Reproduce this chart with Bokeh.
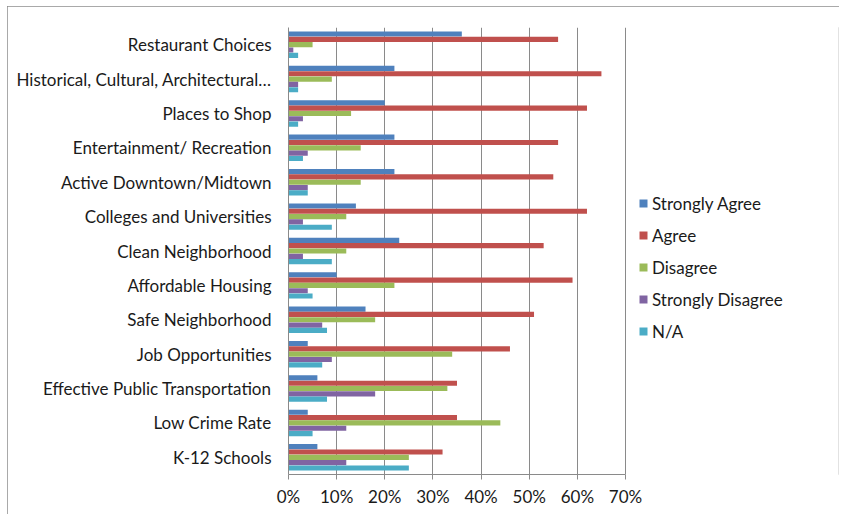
from bokeh.plotting import figure
from bokeh.models import (FactorRange, Range1d, NumeralTickFormatter, Legend, LegendItem,
                          ColumnDataSource, InlineStyleSheet, FixedTicker)
from bokeh.transform import dodge
from bokeh.embed import file_html
from bokeh.resources import INLINE

categories = [
    "Restaurant Choices",
    "Historical, Cultural, Architectural…",
    "Places to Shop",
    "Entertainment/ Recreation",
    "Active Downtown/Midtown",
    "Colleges and Universities",
    "Clean Neighborhood",
    "Affordable Housing",
    "Safe Neighborhood",
    "Job Opportunities",
    "Effective Public Transportation",
    "Low Crime Rate",
    "K-12 Schools",
]
series_names = ["Strongly Agree", "Agree", "Disagree", "Strongly Disagree", "N/A"]
strongly_agree = [36, 22, 20, 22, 22, 14, 23, 10, 16, 4, 6, 4, 6]
agree = [56, 65, 62, 56, 55, 62, 53, 59, 51, 46, 35, 35, 32]
disagree = [5, 9, 13, 15, 15, 12, 12, 22, 18, 34, 33, 44, 25]
strongly_disagree = [1, 2, 3, 4, 4, 3, 3, 4, 7, 9, 18, 12, 12]
not_applicable = [2, 2, 2, 3, 4, 9, 9, 5, 8, 7, 8, 5, 25]
x_ticks = [0, 0.1, 0.2, 0.3, 0.4, 0.5, 0.6, 0.7]
x_max = 0.7

colors = ["#4F81BD", "#C0504D", "#9BBB59", "#8064A2", "#4BACC6"]
values = [strongly_agree, agree, disagree, strongly_disagree, not_applicable]
keys = ["sa", "a", "d", "sd", "na"]

data = {"cat": categories}
for k, v in zip(keys, values):
    data[k] = [x / 100 for x in v]
source = ColumnDataSource(data)

FONT = "Lato"
TEXT = "#1a1a1a"
GRAY = "#8a8a8a"

# frame: 288..838 px wide (550 px); 70% sits at 337 px from the left edge
FRAME_W = 550
AXIS_W = 337
p = figure(width=832, height=508, output_backend="svg", toolbar_location=None,
           y_range=FactorRange(*list(reversed(categories))),
           x_range=Range1d(0, x_max * FRAME_W / AXIS_W),
           min_border_left=281, min_border_right=1, min_border_top=21, min_border_bottom=40)
p.margin = (6, 0, 0, 7)
p.outline_line_color = None
p.stylesheets = [InlineStyleSheet(css=":host { outline: 1px solid #8c8c8c; outline-offset: -1px; }")]

offsets = [0.31, 0.155, 0.0, -0.155, -0.31]
renderers = []
for k, off, c in zip(keys, offsets, colors):
    r = p.hbar(y=dodge("cat", off, range=p.y_range), right=k, left=0, height=0.15,
               source=source, fill_color=c, line_color=None)
    renderers.append(r)

p.ygrid.grid_line_color = None
p.xgrid.grid_line_color = GRAY
p.xgrid.grid_line_width = 1
p.xgrid.bounds = (0, x_max)
p.xaxis.ticker = FixedTicker(ticks=x_ticks)
p.xgrid.ticker = FixedTicker(ticks=x_ticks)
p.xaxis.formatter = NumeralTickFormatter(format="0%")
p.xaxis.bounds = (0, x_max)

for ax in (p.xaxis, p.yaxis):
    ax.axis_line_color = GRAY
    ax.major_tick_line_color = GRAY
    ax.minor_tick_line_color = None
    ax.major_label_text_font = FONT
    ax.major_label_text_font_size = "17px"
    ax.major_label_text_color = TEXT

p.xaxis.major_tick_in = 0
p.xaxis.major_tick_out = 5
p.xaxis.major_label_standoff = 6
p.yaxis.major_tick_line_color = None
p.yaxis.major_label_standoff = 11

legend = Legend(items=[LegendItem(label=n, renderers=[r]) for n, r in zip(series_names, renderers)],
                location=(350, 132), margin=0, padding=0, border_line_color=None,
                background_fill_alpha=0, glyph_width=10, glyph_height=10,
                label_standoff=4, label_height=22, spacing=10,
                label_text_font=FONT, label_text_font_size="17px", label_text_color=TEXT)
p.add_layout(legend, "center")

open("out.html", "w").write(file_html(p, INLINE))
